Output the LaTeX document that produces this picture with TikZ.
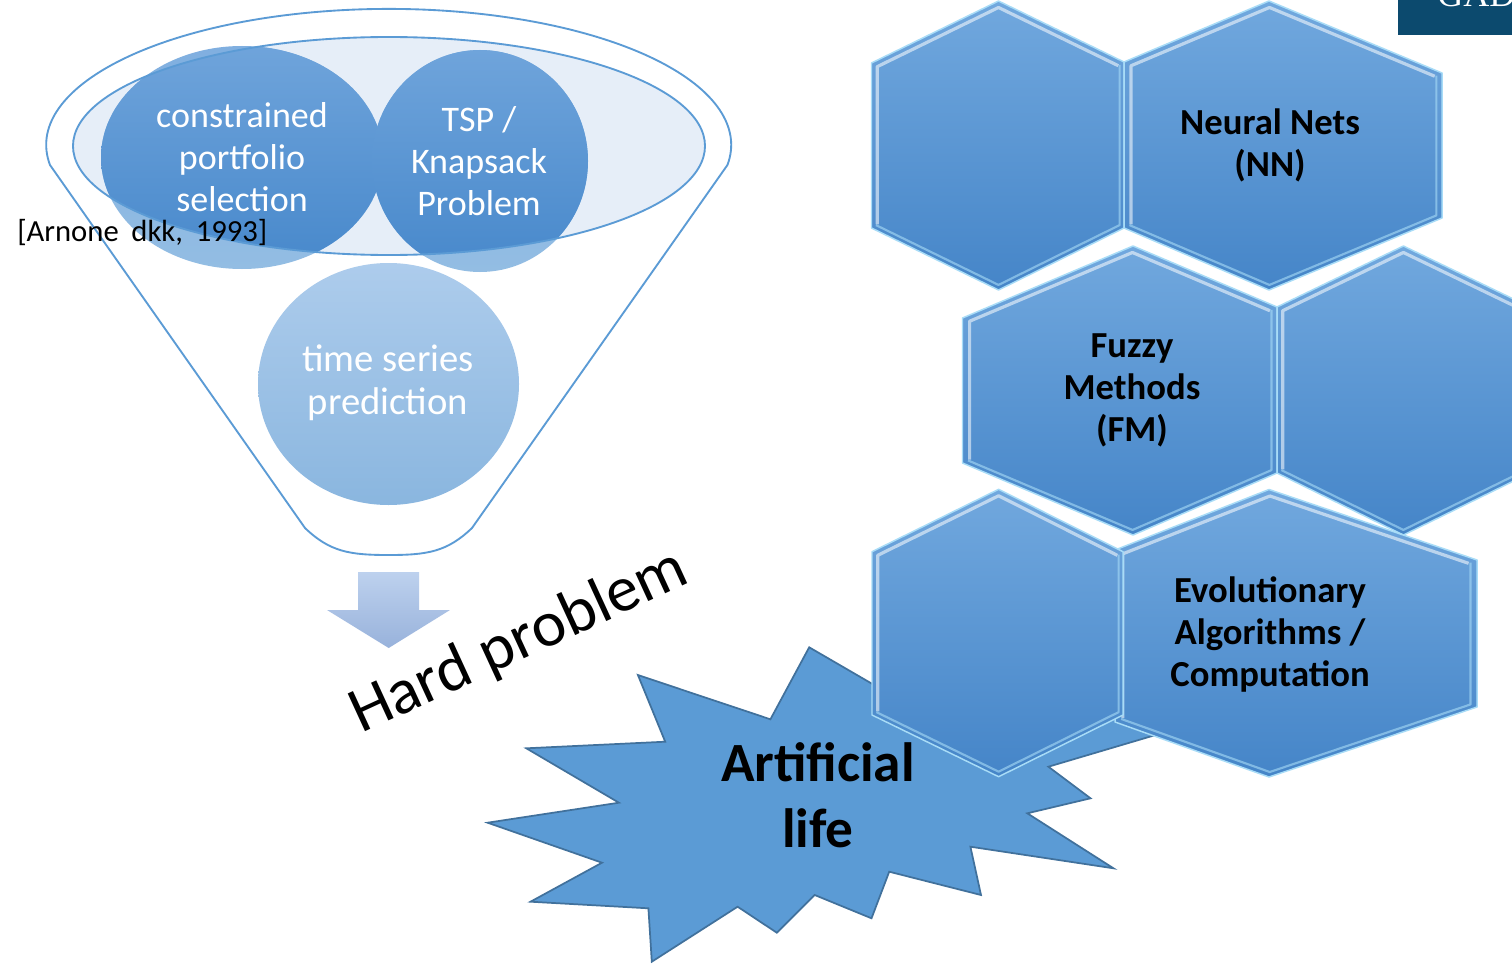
\documentclass[tikz,border=0pt]{standalone}
\usepackage{fontspec}
\setmainfont{Carlito}
\newfontfamily\gadfont{Liberation Serif}
\usetikzlibrary{calc}
\definecolor{hexTop}{HTML}{71A8DE}
\definecolor{hexBot}{HTML}{4585C8}
\definecolor{hexRim}{HTML}{A8DCF7}
\definecolor{funBlue}{HTML}{5B9BD5}
\definecolor{ellFill}{HTML}{E6EEF8}
\definecolor{cirTop}{HTML}{6FA4DB}
\definecolor{cirBot}{HTML}{4788CB}
\definecolor{cirLTop}{HTML}{80AFE0}
\definecolor{cirLBot}{HTML}{93BDE3}
\definecolor{tsTop}{HTML}{ADCCEC}
\definecolor{tsBot}{HTML}{8AB6DF}
\definecolor{arTop}{HTML}{BDD1EE}
\definecolor{arBot}{HTML}{98B2DB}
\definecolor{starFill}{HTML}{5B9BD5}
\definecolor{starLine}{HTML}{41719C}
\definecolor{gadBox}{HTML}{0C4A6E}
\newcommand\hexcell[7]{%
  \shade[top color=hexTop,bottom color=hexBot] #2 -- #3 -- #4 -- #5 -- #6 -- #7 -- cycle;
  \draw[hexedge] #2 -- #3 -- #4 -- #5 -- #6 -- #7 -- cycle;
  \draw[hexhiA] ($#1!0.955!#4$) -- ($#1!0.955!#3$) -- ($#1!0.955!#2$) -- ($#1!0.955!#7$);
  \draw[hexhiB] ($#1!0.965!#7$) -- ($#1!0.965!#6$) -- ($#1!0.965!#5$) -- ($#1!0.965!#4$);
}
\begin{document}
\begin{tikzpicture}[x=0.75pt,y=-0.75pt,
  funline/.style={draw=funBlue,line width=1.4pt},
  hexedge/.style={draw=hexRim,line width=1.1pt,line join=round},
  hexhiA/.style={draw=white,opacity=0.55,line width=2.4pt,line join=round},
  hexhiB/.style={draw=hexRim,opacity=0.6,line width=1.6pt,line join=round},
  whitelbl/.style={inner sep=0pt,align=center,text=white},
  hexlbl/.style={inner sep=0pt,align=center,text=black,font=\bfseries\fontsize{27.5}{31.5}\selectfont},
  starshape/.style={fill=starFill,draw=starLine,line width=1.3pt,line join=miter}]
\useasboundingbox (0,0) rectangle (1512,963);
\fill[white] (0,0) rectangle (1512,963);

% ---------- funnel ----------
\draw[funline,fill=white] (50,165) arc[start angle=171.5,end angle=368.5,x radius=342.5,y radius=136]
  -- (472,528) .. controls (447,552) and (427,555) .. (388.5,555)
  .. controls (350,555) and (330,552) .. (305,528) -- cycle;
\fill[ellFill] (389,146) ellipse[x radius=316,y radius=109];
\shade[top color=cirLTop,bottom color=cirLBot] (242,157.5) ellipse[x radius=141,y radius=111.5];
\shade[top color=cirLTop,bottom color=cirLBot] (480,161) ellipse[x radius=108,y radius=111];
\begin{scope}
  \clip (389,146) ellipse[x radius=316,y radius=109];
  \shade[top color=cirTop,bottom color=cirBot] (242,157.5) ellipse[x radius=141,y radius=111.5];
  \shade[top color=cirTop,bottom color=cirBot] (480,161) ellipse[x radius=108,y radius=111];
\end{scope}
\draw[funline] (389,146) ellipse[x radius=316,y radius=109];
\shade[top color=tsTop,bottom color=tsBot] (388.5,384) ellipse[x radius=130.5,y radius=121];

\node[whitelbl,font=\fontsize{27}{31.5}\selectfont] (cps) at (242,157) {constrained\\portfolio\\selection};
\node[whitelbl,font=\fontsize{27}{31.5}\selectfont] (tsp) at (479,161) {TSP /\\Knapsack\\Problem};
\node[whitelbl,font=\fontsize{29}{32}\selectfont] (tsr) at (388,383) {time series\\prediction};
\node[inner sep=0pt,anchor=west,font=\fontsize{23}{24}\selectfont] (arn) at (17,233) {[Arnone\hspace{9.5pt}dkk,\hspace{9.5pt}1993]};

% ---------- arrow ----------
\shade[top color=arTop,bottom color=arBot] (358,572) -- (419,572) -- (419,610) -- (450,610)
  -- (388.7,648) -- (327,610) -- (358,610) -- cycle;

\node[rotate=24.7,anchor=base west,inner sep=0pt,font=\fontsize{48.5}{50}\selectfont] (hard) at (361,734) {Hard problem};

% ---------- hexagons (upper rows) ----------
\hexcell{(998,145)}{(998.5,1)}{(871.5,63)}{(871.5,228)}{(998.5,290)}{(1124,228)}{(1124,62)}
\hexcell{(1280,145)}{(1269,1)}{(1124,62)}{(1124,228)}{(1269,290)}{(1442,218)}{(1442,73)}
\hexcell{(1120,390)}{(1133,246)}{(962.5,318)}{(962.5,463)}{(1133,535)}{(1277,473)}{(1277,307)}
\hexcell{(1403,390)}{(1403.4,246)}{(1277,307)}{(1277,473)}{(1403.4,535)}{(1530,473)}{(1530,307)}

% ---------- star ----------
\draw[starshape] (487.6,822.7) -- (602,862.7) -- (530.5,901.7) -- (648.4,908.3) -- (651.8,961.7)
  -- (737.6,906.7) -- (776.8,932.7) -- (814.7,895) -- (871.5,918.3) -- (889.2,871.7)
  -- (981,895) -- (970.4,846.7) -- (1113.5,868.3) -- (1027.3,813.3) -- (1090.5,798.3)
  -- (1048.4,766.7) -- (1240,710) -- (1100,690) -- (1000,610) -- (900,700)
  -- (809.2,647.3) -- (770.4,719.3) -- (637.9,675) -- (665.2,741.7) -- (526.3,748.3)
  -- (618.9,802.7) -- cycle;

% ---------- hexagons (bottom row) ----------
\hexcell{(1290,634)}{(1269,489.5)}{(1115,550)}{(1115,722)}{(1269,777)}{(1477,707)}{(1477,560)}
\hexcell{(998,633)}{(998.6,489.3)}{(872,551.7)}{(872,715)}{(998.6,776.7)}{(1123,715)}{(1123,551.7)}

% ---------- labels ----------
\node[hexlbl] (nn) at (1270,145) {Neural Nets\\(NN)};
\node[hexlbl] (fm) at (1132,390) {Fuzzy\\Methods\\(FM)};
\node[hexlbl] (ea) at (1270,634) {Evolutionary\\Algorithms /\\Computation};
\node[inner sep=0pt,align=center,font=\bfseries\fontsize{41.5}{49.5}\selectfont] (al) at (818,795) {Artificial\\life};

% ---------- logo corner ----------
\fill[gadBox] (1398,0) rectangle (1512,35);
\node[anchor=base west,inner sep=0pt,text=white,font=\gadfont\fontsize{27}{27}\selectfont] (gad) at (1437,7) {GAD};
\end{tikzpicture}
\end{document}
